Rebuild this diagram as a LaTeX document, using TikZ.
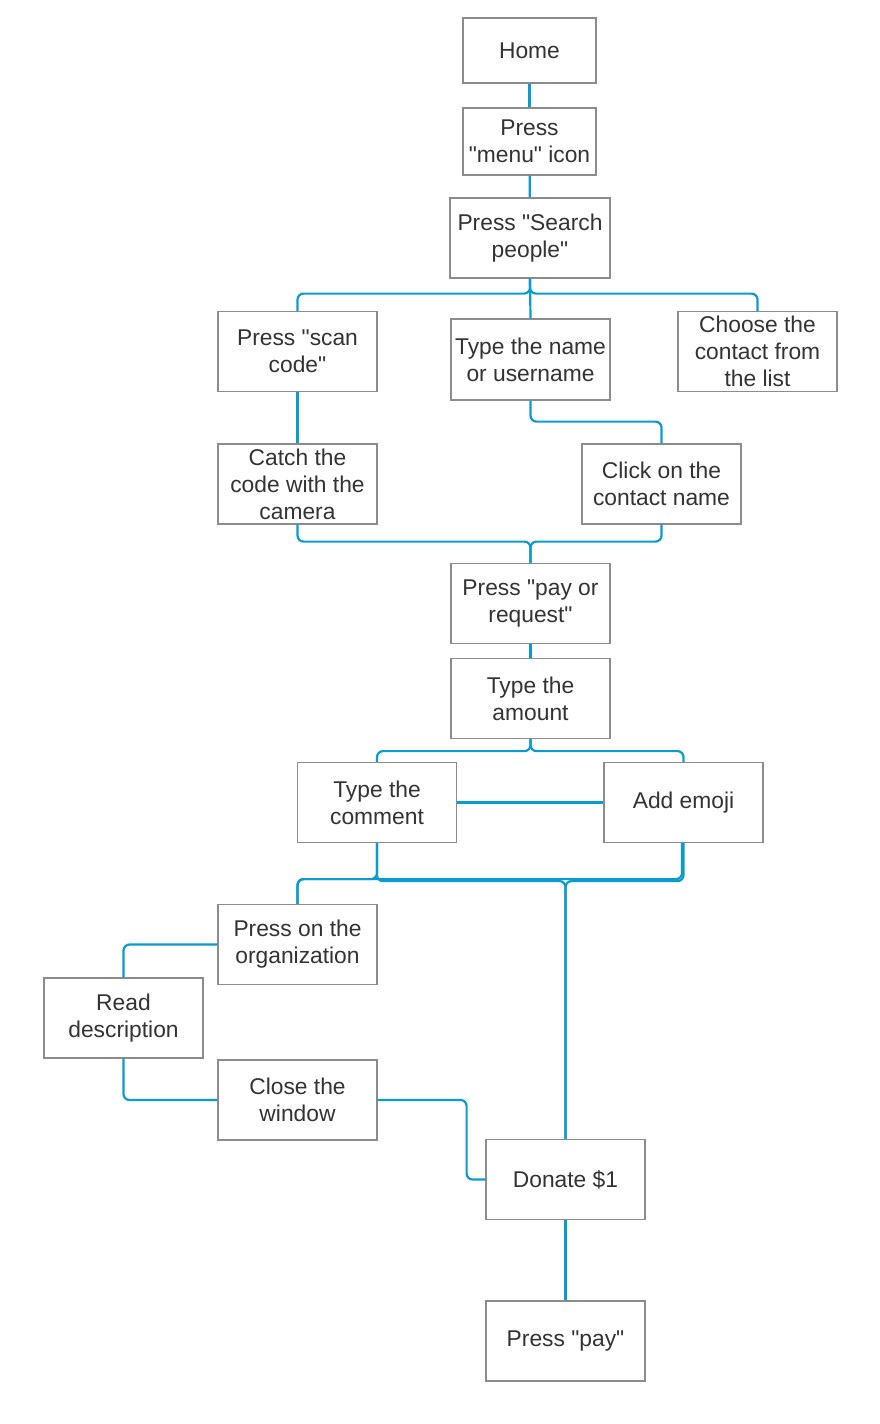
\documentclass[tikz,border=0pt]{standalone}
\usepackage{fontspec}
\setmainfont{Liberation Sans}[Ligatures=TeXOff]
\definecolor{boxline}{HTML}{8C8C8C}
\definecolor{conn}{HTML}{0A9BD0}
\definecolor{txt}{HTML}{333333}
\begin{document}
\begin{tikzpicture}[x=1pt,y=-1pt,
  stepbox/.style={draw=boxline,line width=1.2pt,fill=white,minimum width=159pt,minimum height=80pt,inner sep=0pt,align=center,text=txt,font=\fontsize{22.8}{27}\selectfont},
  link/.style={draw=conn,line width=2.2pt,rounded corners=6pt}]
\useasboundingbox (0,0) rectangle (880,1424);
\node[stepbox,minimum width=133pt,minimum height=65pt] (home) at (529.5,50.5) {Home};
\node[stepbox,minimum width=133pt,minimum height=67pt] (menu) at (529.5,141.5) {Press\\"menu" icon};
\node[stepbox,minimum width=160pt] (search) at (530,238) {Press "Search\\people"};
\node[stepbox] (scan) at (297.5,351.5) {Press "scan\\code"};
\node[stepbox,minimum height=81pt] (name) at (530.5,359.5) {Type the name\\or username};
\node[stepbox] (choose) at (757.5,351.5) {Choose the\\contact from\\the list};
\node[stepbox] (catch) at (297.5,484) {Catch the\\code with the\\camera};
\node[stepbox] (click) at (661.5,484) {Click on the\\contact name};
\node[stepbox] (pay) at (530.5,603.5) {Press "pay or\\request"};
\node[stepbox] (amount) at (530.5,698.5) {Type the\\amount};
\node[stepbox] (comment) at (377,802.5) {Type the\\comment};
\node[stepbox] (emoji) at (683.5,802.5) {Add emoji};
\node[stepbox] (org) at (297.5,944.5) {Press on the\\organization};
\node[stepbox] (read) at (123.5,1018) {Read\\description};
\node[stepbox] (close) at (297.5,1100) {Close the\\window};
\node[stepbox] (donate) at (565.5,1179.5) {Donate \$1};
\node[stepbox] (presspay) at (565.5,1341) {Press "pay"};

\draw[link] (home) -- (menu);
\draw[link] (menu) -- (search);
\draw[link] (search.south) -- ++(0,15) -| (scan.north);
\draw[link] (search.south) -- ++(0,15) -| (choose.north);
\draw[link] (search.south) -- (name.north);
\draw[link] (name.south) -- ++(0,21) -| (click.north);
\draw[link] (scan) -- (catch);
\draw[link] (catch.south) -- ++(0,17) -| (pay.north);
\draw[link] (click.south) -- ++(0,17) -| (pay.north);
\draw[link] (pay) -- (amount);
\draw[link] (amount.south) -- ++(0,12) -| (comment.north);
\draw[link] (amount.south) -- ++(0,12) -| (emoji.north);
\draw[link] (comment) -- (emoji);
\draw[link] (comment.south) -- ++(0,36) -| (org.north);
\draw[link] (comment.south) -- ++(0,38) -| (donate.north);
\draw[link] ([xshift=-1.5pt]emoji.south) -- ++(0,36) -| (org.north);
\draw[link] (emoji.south) -- ++(0,38) -| (donate.north);
\draw[link] (org.west) -| (read.north);
\draw[link] (read.south) |- (close.west);
\draw[link] (close.east) -- ++(89,0) |- (donate.west);
\draw[link] (donate) -- (presspay);
\end{tikzpicture}
\end{document}
